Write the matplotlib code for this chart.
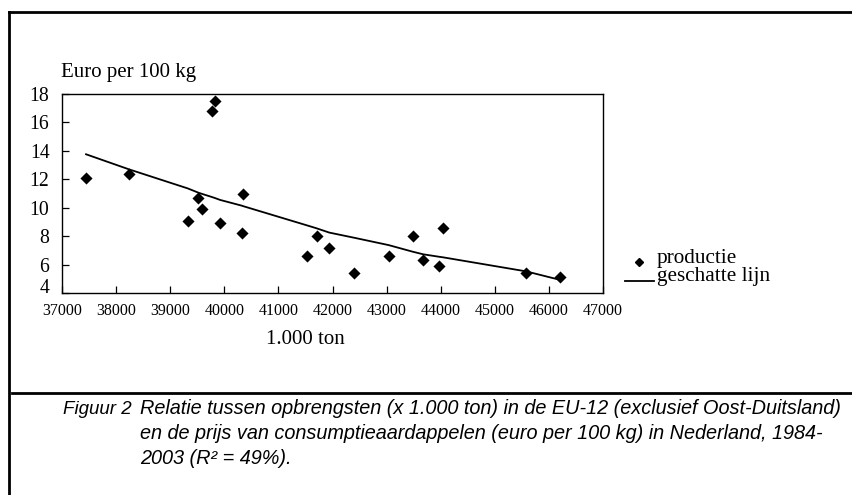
import matplotlib
matplotlib.use("Agg")
import matplotlib.pyplot as plt
from matplotlib.lines import Line2D

# ---- data ----
production = [37444, 38238, 39323, 39520, 39582, 39773, 39828, 39921, 40327, 40340,
              41535, 41707, 41941, 42397, 43038, 43488, 43680, 43969, 44043, 45582, 46198]
price = [12.07, 12.37, 9.06, 10.66, 9.91, 16.8, 17.53, 8.9, 8.22, 10.96,
         6.6, 8.03, 7.18, 5.38, 6.6, 8.03, 6.32, 5.92, 8.55, 5.38, 5.14]
fitted = [13.76, 12.70, 11.36, 11.06, 10.98, 10.75, 10.68, 10.55, 10.14, 10.12,
          8.75, 8.55, 8.25, 7.89, 7.37, 6.90, 6.72, 6.55, 6.51, 5.52, 4.93]
x_ticks = [37000, 38000, 39000, 40000, 41000, 42000, 43000, 44000, 45000, 46000, 47000]
y_ticks = [4, 6, 8, 10, 12, 14, 16, 18]
y_label = "Euro per 100 kg"
x_label = "1.000 ton"
legend_labels = ["productie", "geschatte lijn"]
caption_lead = "Figuur 2"
caption_lines = [
    "Relatie tussen opbrengsten (x 1.000 ton) in de EU-12 (exclusief Oost-Duitsland)",
    "en de prijs van consumptieaardappelen (euro per 100 kg) in Nederland, 1984-",
    "2003 (R² = 49%).",
]

W, H = 852, 495
fig = plt.figure(figsize=(W / 100, H / 100), dpi=100)
serif = ["Liberation Serif", "DejaVu Serif"]
narrow = ["Liberation Sans Narrow", "Liberation Sans", "DejaVu Sans"]

def fx(px):
    return px / W

def fy(py):
    return 1 - py / H

ax = fig.add_axes([fx(62), fy(293), fx(603) - fx(62), fy(94) - fy(293)])
ax.plot(production, fitted, color="black", lw=1.3, zorder=2)
ax.scatter(production, price, marker="D", s=38, color="black", zorder=3, linewidths=0)
ax.set_xlim(37000, 47000)
ax.set_ylim(4, 18)
ax.set_xticks(x_ticks)
ax.set_yticks(y_ticks)
ax.set_xticklabels([str(v) for v in x_ticks], family=serif, fontsize=11.5)
ylabels = ax.set_yticklabels([str(v) for v in y_ticks], family=serif, fontsize=14.2)
ylabels[0].set_va("baseline")  # lowest label sits slightly raised, as in the reference
ax.tick_params(axis="both", direction="in", length=5, width=0.9, color="black")
ax.tick_params(axis="y", pad=9)
ax.tick_params(axis="x", pad=7)
for s in ax.spines.values():
    s.set_linewidth(1.0)
    s.set_color("black")

# labels
fig.text(fx(61), fy(72), y_label, family=serif, fontsize=15, ha="left", va="center")
fig.text(fx(305), fy(340), x_label, family=serif, fontsize=15, ha="center", va="center")

# legend (manual)
fig.add_artist(Line2D([fx(639)], [fy(262)], marker="D", markersize=4.5, color="black",
                      linestyle="none", transform=fig.transFigure))
fig.add_artist(Line2D([fx(625), fx(654)], [fy(281), fy(281)], color="black", lw=1.3,
                      transform=fig.transFigure))
fig.text(fx(657), fy(258), legend_labels[0], family=serif, fontsize=15.3, ha="left", va="center")
fig.text(fx(657), fy(276), legend_labels[1], family=serif, fontsize=15.3, ha="left", va="center")

# outer frame (top and left)
fig.add_artist(Line2D([fx(9), 1.0], [fy(12), fy(12)], color="black", lw=2.0,
                      transform=fig.transFigure))
fig.add_artist(Line2D([fx(9), fx(9)], [fy(12), 0.0], color="black", lw=2.0,
                      transform=fig.transFigure))
# caption rule
fig.add_artist(Line2D([fx(12), 1.0], [fy(393), fy(393)], color="black", lw=2.0,
                      transform=fig.transFigure))

# caption
fig.text(fx(63), fy(409), caption_lead, family=narrow, style="italic", fontsize=13.5,
         ha="left", va="center")
for i, line in enumerate(caption_lines):
    fig.text(fx(140), fy(409 + 24.5 * i), line, family=narrow, style="italic",
             fontsize=14.3, ha="left", va="center")

fig.savefig("out.png", dpi=100)
